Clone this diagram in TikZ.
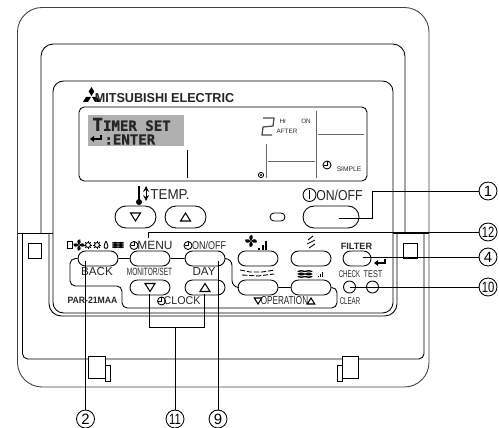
\documentclass[tikz,border=0pt]{standalone}
\usepackage{fontspec}
\setmainfont{Liberation Sans}
\newfontfamily\lcdfont[FakeBold=1.2]{DejaVu Sans Mono}
\usetikzlibrary{shapes.misc}
\definecolor{lcdgray}{RGB}{176,176,176}
\tikzset{
  lbl/.style={inner sep=0pt,text=black!85,font=\fontsize{#1}{#1}\selectfont},
  btn/.style={draw,rounded rectangle,inner sep=0pt,minimum width=0.8cm,minimum height=0.3cm},
  bigbtn/.style={draw,rounded rectangle,inner sep=0pt,minimum width=0.82cm,minimum height=0.44cm},
  callout/.style={draw,circle,inner sep=0pt,minimum size=0.36cm,font=\fontsize{8.5}{8.5}\selectfont},
  trup/.pic={\draw[line width=0.6pt] (-5,4)--(5,4)--(0,-4)--cycle;},
  trdown/.pic={\draw[line width=0.6pt] (-5,-4)--(5,-4)--(0,4)--cycle;},
  clockmark/.pic={\draw (0,0) circle (4); \draw (0,-4)--(0,0)--(-3.5,0);},
  sunmark/.pic={\draw (0,0) circle (2.4); \foreach \a in {0,45,...,315} \draw (\a:2.4)--(\a:4);},
  fanmark/.pic={\foreach \a in {0,90,180,270} \fill[rotate=\a] (0,0) .. controls (-3,-3) and (-3,-7) .. (1.5,-7) .. controls (3,-5) and (2,-2) .. (0,0);},
  barmark/.pic={\fill (0,0) rectangle (2,-2); \fill (3.5,0) rectangle (5.5,-5); \fill (7,0) rectangle (9,-9);},
  airmark/.pic={\foreach \y in {-3,0,3} {\draw (-8,\y) .. controls (-3,\y-3) and (3,\y+3) .. (8,\y);
    \draw (-8,\y) .. controls (-3,\y+3) and (3,\y-3) .. (8,\y);}},
  entermark/.pic={\draw[line width=0.9pt] (5,-4)--(5,0)--(-4,0); \fill (-6,0)--(-2,-3)--(-2,3)--cycle;}
}
\begin{document}
\begin{tikzpicture}[x=0.02cm,y=-0.02cm,line width=0.5pt]
\useasboundingbox (0,0) rectangle (499,428);

  % housing
  \draw[black!75,rounded corners=14] (17.5,233)--(17.5,7.5)--(429,7.5)--(429,387)--(17.5,387)--cycle;
  \draw[rounded corners=7] (41,233)--(41,44)--(405,44)--(405,233);
  \draw[rounded corners=6] (53,233)--(53,81)--(393,81)--(393,233);
  \draw (17.5,233)--(53,233);
  \draw (393,233)--(429,233);
  \draw[rounded corners=3] (22.5,233)--(22.5,359)--(424,359)--(424,233);
  \draw[rounded corners=7] (49,233)--(49,316)--(397,316)--(397,233);
  \draw[rounded corners=6] (53,233)--(53,313)--(393,313)--(393,233);
  \draw (28,243) rectangle (41,258);
  \draw (403,243) rectangle (417,258);

  % hinges
  \filldraw[fill=white] (88,356) rectangle (105,378);
  \filldraw[fill=white] (105,365) rectangle (110,381);
  \filldraw[fill=white] (342,356) rectangle (358,378);
  \filldraw[fill=white] (337,365) rectangle (342,381);

  % logo
  \fill (91.5,87)--(94.3,91.5)--(91.5,96)--(88.7,91.5)--cycle;
  \fill (91,97)--(88,102)--(83,102)--(86,97)--cycle;
  \fill (92,97)--(95,102)--(100,102)--(97,97)--cycle;
  \node[lbl=7.4] (brand) at (164.5,98) {\textbf{\scalebox{0.97}[1]{MITSUBISHI ELECTRIC}}};

  % display
  \draw[rounded corners=3] (79,107) rectangle (367,181);
  \fill[lcdgray] (88,115) rectangle (184,146);
  \node[lbl=8,anchor=west] (lcdtop) at (92,124.5) {\lcdfont\textbf{\fontsize{10}{10}\selectfont T\fontsize{8}{8}\selectfont IMER SET}};
  \node[lbl=8,anchor=west] (lcdenter) at (104,139.5) {\lcdfont\textbf{:ENTER}};
  \pic at (96,139) {entermark};
  \draw (187.5,150)--(187.5,178);
  \draw[black!60,line width=0.7pt] (266.5,144)--(266.5,178);
  \draw[black!60] (268,161)--(315,161);
  \draw[black!60,line width=0.7pt] (316.5,111)--(316.5,178);
  \draw[black!60] (318,134)--(364,134);
  \draw[black!70,line width=0.7pt] (263,118)--(274,118)--(273,126)--(263,127)--(262,135)--(272,135);
  \node[lbl=3.6] (hr) at (283,121) {Hr};
  \node[lbl=3.6] (on) at (306,121) {ON};
  \node[lbl=3.6] (after) at (287,131) {AFTER};
  \node[lbl=3.8] (simple) at (349,169) {SIMPLE};
  \pic at (327,165) {clockmark};
  \draw (261,175) circle (2.6);
  \fill (261,175) circle (1.2);

  % temperature and power
  \fill (139,202) circle (3);
  \draw[line width=1.2pt] (139,200)--(139,186);
  \draw[line width=0.5pt,<->,>=stealth] (146,186)--(146,201);
  \node[lbl=8.2] (temp) at (170,195) {\scalebox{0.93}[1]{TEMP.}};
  \node[bigbtn] (tdown) at (135.5,217) {};
  \node[bigbtn] (tup) at (185.5,217) {};
  \pic at (135.5,217) {trdown};
  \pic at (185.5,217) {trup};
  \node[draw,rounded rectangle,inner sep=0pt,minimum width=0.3cm,minimum height=0.16cm] (led) at (277.5,217) {};
  \node[bigbtn,minimum width=1.12cm] (power) at (331,217) {};
  \draw (309.5,195) circle (6.5);
  \draw (309.5,190.5)--(309.5,199.5);
  \node[lbl=8.2] (onofftxt) at (339.5,195) {\scalebox{0.85}[1]{ON/OFF}};

  % upper row of buttons
  \node[btn] (back) at (98,258.5) {};
  \node[btn] (menu) at (150,258.5) {};
  \node[btn] (timer) at (205,258.5) {};
  \node[btn] (fan) at (258,258.5) {};
  \node[btn] (vane) at (311,258.5) {};
  \node[btn,minimum width=0.56cm] (filter) at (357,258.5) {};

  % lower row of buttons
  \node[btn] (mdown) at (150,287.5) {};
  \node[btn] (mup) at (205,287.5) {};
  \node[btn] (opdown) at (258,287.5) {};
  \node[btn] (opup) at (311,287.5) {};
  \node[draw,circle,inner sep=0pt,minimum size=0.24cm] (check) at (349.5,287) {};
  \node[draw,circle,inner sep=0pt,minimum size=0.24cm] (test) at (372.5,287) {};
  \pic at (150,287.5) {trdown};
  \pic at (205,287.5) {trup};

  % frame lines round the buttons
  \draw (back)--(menu);
  \draw (menu)--(timer);
  \draw (opdown)--(opup);
  \draw[rounded corners=4] (timer.east)--(232,258.5)--(232,287.5)--(opdown.west);
  \draw[rounded corners=3] (opup.east)--(337,287.5)--(337,308)--(122,308)--(122,286)--(70,286)--(70,258.5)--(back.west);

  % labels of the panel
  \draw (67,241) rectangle (72,248.5);
  \pic[scale=0.8] at (79,245) {fanmark};
  \pic at (88,245) {sunmark};
  \pic at (97,245) {sunmark};
  \draw (106,241) .. controls (104,245) and (103,248) .. (106,248.5) .. controls (109,248) and (108,245) .. (106,241);
  \pic[scale=0.7] at (118,245) {airmark};
  \pic at (134,245.5) {clockmark};
  \node[lbl=6.8] (menutxt) at (155,245.5) {MENU};
  \pic at (188,245.5) {clockmark};
  \node[lbl=6.4] (timertxt) at (209,245.5) {\scalebox{0.8}[1]{ON/OFF}};
  \node[lbl=6.6] (backtxt) at (97,272) {BACK};
  \node[lbl=6] (monitor) at (149.5,272) {\scalebox{0.62}[1]{MONITOR/SET}};
  \node[lbl=6.6] (day) at (204,272) {DAY};
  \node[lbl=5.2] (model) at (92.5,300) {\textbf{\scalebox{0.95}[1]{PAR-21MAA}}};
  \pic at (161.5,301) {clockmark};
  \node[lbl=6.4] (clocktxt) at (182,301) {\scalebox{0.95}[1]{CLOCK}};
  \pic[scale=0.75] at (258,301) {trdown};
  \node[lbl=6.6] (operation) at (284.5,301) {\scalebox{0.7}[1]{OPERATION}};
  \pic[scale=0.75] at (311,301) {trup};
  \node[lbl=5.2] (filtertxt) at (356.5,246) {\textbf{FILTER}};
  \pic at (380,263) {entermark};
  \node[lbl=5.6] (checktxt) at (349.5,274) {\scalebox{0.62}[1]{CHECK}};
  \node[lbl=5.6] (testtxt) at (373,274) {\scalebox{0.75}[1]{TEST}};
  \node[lbl=5.6] (cleartxt) at (350,301.5) {\scalebox{0.62}[1]{CLEAR}};
  \pic[scale=0.85] at (251,241) {fanmark};
  \pic at (258,250) {barmark};
  \draw (308,240)--(313,236);
  \draw (307,244)--(315,240);
  \draw (309,248)--(315,244);
  \draw[dash pattern=on 3pt off 1pt] (240,270)--(250,272)--(262,272)--(275,270);
  \draw[dash pattern=on 3pt off 1pt] (242,275)--(258,276)--(274,274);
  \pic[scale=0.9] at (305,274) {airmark};
  \pic[scale=0.6] at (318,277) {barmark};

  % numbered callouts
  \node[callout] (c1) at (488,191) {1};
  \node[callout] (c12) at (488,232) {\scalebox{0.75}[1]{12}};
  \node[callout] (c4) at (488,257) {4};
  \node[callout] (c10) at (488,287) {\scalebox{0.75}[1]{10}};
  \node[callout] (c2) at (85.5,419) {2};
  \node[callout] (c11) at (175,419) {\scalebox{0.75}[1]{11}};
  \node[callout] (c9) at (218,419) {9};
  \coordinate (p1) at (339,218);
  \coordinate (p12) at (148,238);
  \coordinate (p4) at (363,257);
  \coordinate (p10) at (349.5,287);
  \coordinate (p2) at (85.5,261);
  \coordinate (p9) at (218,261);
  \coordinate (p11) at (175,327);
  \draw (p1)--(372,218)|-(c1);
  \draw (p12)|-(c12);
  \draw (p4)--(c4);
  \draw (p10)--(c10);
  \draw (p2)--(c2);
  \draw (p9)--(c9);
  \draw (p11)--(c11);
  \draw (149.5,294)--(149.5,327)--(204.5,327)--(204.5,294);
\end{tikzpicture}
\end{document}
